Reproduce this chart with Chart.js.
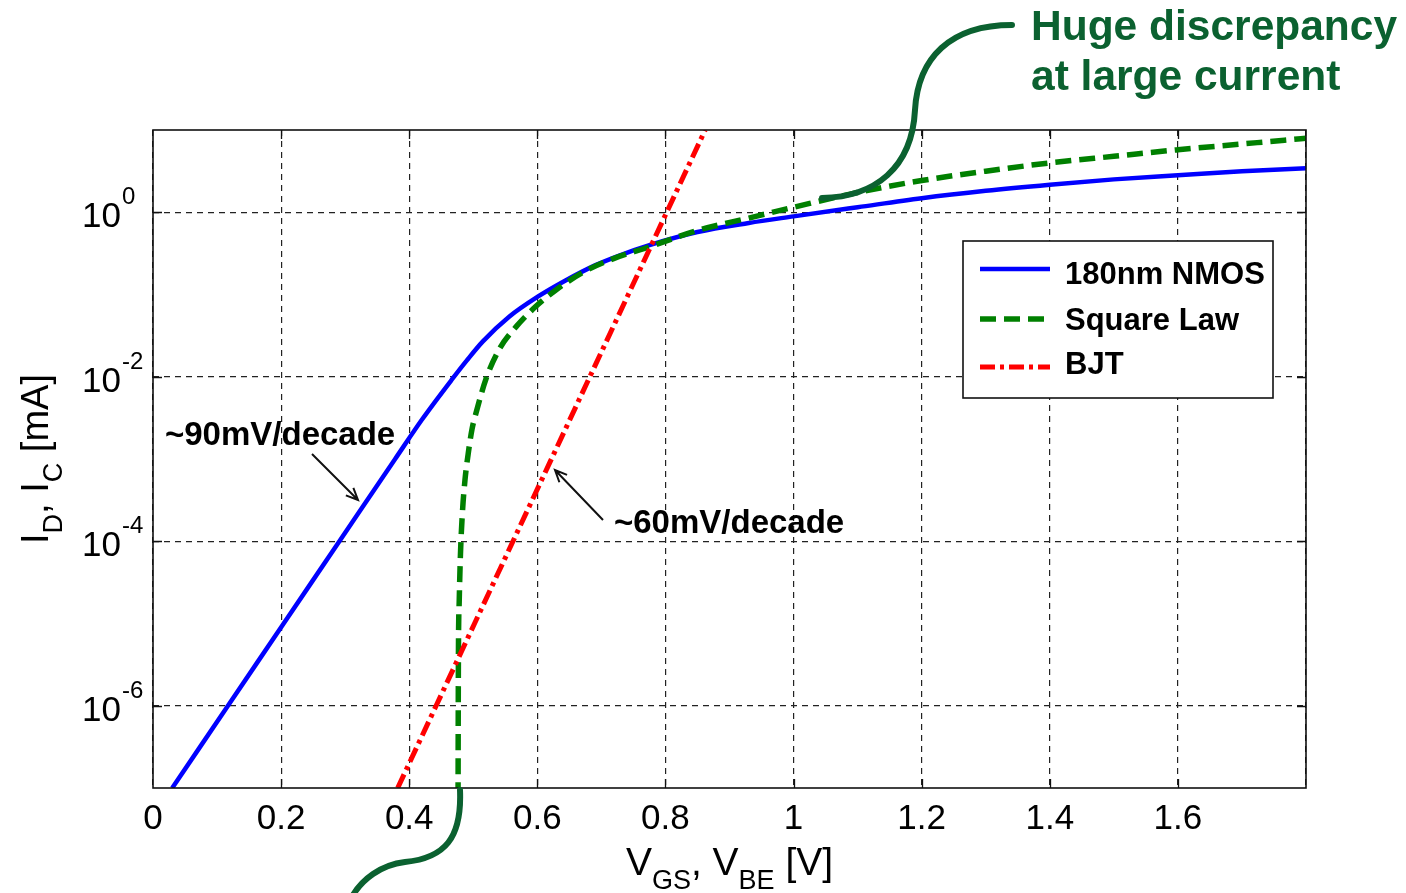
<!DOCTYPE html>
<html>
<head>
<meta charset="utf-8">
<script src="https://cdn.jsdelivr.net/npm/chart.js@4.4.0/dist/chart.umd.min.js"></script>
<style>
html, body { margin: 0; padding: 0; background: #fff; }
#wrap { position: relative; width: 1406px; height: 893px; }
</style>
</head>
<body>
<div id="wrap"><canvas id="chart"></canvas></div>
<script>
// values: gate/base voltage [V] and current [mA]
const nmosV = [0.03, 0.117, 0.204, 0.291, 0.378, 0.42, 0.467, 0.49, 0.515, 0.556, 0.60, 0.644, 0.69, 0.73, 0.775, 0.85, 0.93, 1.0, 1.1, 1.2, 1.3, 1.4, 1.5, 1.6, 1.7, 1.8];
const nmosI = [1e-7, 1e-6, 1e-5, 1e-4, 1e-3, 3.02e-3, 9.33e-3, 1.58e-2, 2.69e-2, 5.37e-2, 9.33e-2, 0.148, 0.226, 0.302, 0.398, 0.575, 0.741, 0.891, 1.15, 1.48, 1.82, 2.16, 2.51, 2.82, 3.16, 3.43];

const sqV = [0.476, 0.4768, 0.478, 0.48, 0.483, 0.487, 0.492, 0.498, 0.505, 0.52, 0.541, 0.567, 0.597, 0.628, 0.674, 0.72, 0.775, 0.85, 0.93, 1.0, 1.1, 1.2, 1.3, 1.4, 1.5, 1.6, 1.7, 1.8];
const sqI = [1e-8, 4e-6, 1.8e-5, 7e-5, 2.2e-4, 5.5e-4, 1.15e-3, 2.3e-3, 3.8e-3, 9.5e-3, 2.19e-2, 4.07e-2, 7.08e-2, 0.112, 0.191, 0.275, 0.38, 0.60, 0.85, 1.15, 1.74, 2.43, 3.16, 3.98, 4.79, 5.75, 6.76, 7.94];

const bjtV = [0.382, 0.442, 0.502, 0.562, 0.622, 0.682, 0.742, 0.802, 0.862];
const bjtI = [1e-7, 1e-6, 1e-5, 1e-4, 1e-3, 1e-2, 1e-1, 1, 10];

const seriesNames = ['180nm NMOS', 'Square Law', 'BJT'];
const yTickExp = [0, -2, -4, -6];
const xMin = 0, xMax = 1.8, xStep = 0.2;

const FONT = '"Liberation Sans", Arial, Helvetica, sans-serif';
const DARK_GREEN = '#0b6130';

function pts(xs, ys) {
    return xs.map((x, i) => ({ x: x, y: ys[i] }));
}

// draws text made of normal/subscript parts, returns width
function drawParts(ctx, parts, x, y, big, small, align) {
    const w = parts.map(p => {
        ctx.font = (p.sub ? small : big) + 'px ' + FONT;
        return ctx.measureText(p.t).width;
    });
    const total = w.reduce((a, b) => a + b, 0);
    let cx = align === 'center' ? x - total / 2 : (align === 'right' ? x - total : x);
    ctx.textAlign = 'left';
    ctx.textBaseline = 'alphabetic';
    parts.forEach((p, i) => {
        ctx.font = (p.sub ? small : big) + 'px ' + FONT;
        ctx.fillText(p.t, cx, y + (p.sub ? 14 : 0));
        cx += w[i];
    });
    return total;
}

function arrow(ctx, x1, y1, x2, y2) {
    const a = Math.atan2(y2 - y1, x2 - x1);
    const L = 13;
    ctx.save();
    ctx.strokeStyle = '#111';
    ctx.lineWidth = 2;
    ctx.beginPath();
    ctx.moveTo(x1, y1);
    ctx.lineTo(x2, y2);
    ctx.moveTo(x2 - L * Math.cos(a - 0.42), y2 - L * Math.sin(a - 0.42));
    ctx.lineTo(x2, y2);
    ctx.lineTo(x2 - L * Math.cos(a + 0.42), y2 - L * Math.sin(a + 0.42));
    ctx.stroke();
    ctx.restore();
}

const decorPlugin = {
    id: 'decor',
    afterDatasetsDraw(chart) {
        const ctx = chart.ctx;
        const area = chart.chartArea;
        const xs = chart.scales.x, ys = chart.scales.y;
        ctx.save();

        // frame
        ctx.strokeStyle = '#111';
        ctx.lineWidth = 1.6;
        ctx.strokeRect(area.left, area.top, area.right - area.left, area.bottom - area.top);

        // inward tick marks
        ctx.lineWidth = 1.3;
        ctx.beginPath();
        for (let v = xMin + xStep; v < xMax - 1e-9; v += xStep) {
            const px = Math.round(xs.getPixelForValue(v)) + 0.5;
            ctx.moveTo(px, area.bottom); ctx.lineTo(px, area.bottom - 9);
            ctx.moveTo(px, area.top); ctx.lineTo(px, area.top + 9);
        }
        yTickExp.forEach(e => {
            const py = Math.round(ys.getPixelForValue(Math.pow(10, e))) + 0.5;
            ctx.moveTo(area.left, py); ctx.lineTo(area.left + 9, py);
            ctx.moveTo(area.right, py); ctx.lineTo(area.right - 9, py);
        });
        ctx.stroke();

        // y tick labels 10^n
        ctx.fillStyle = '#000';
        ctx.textBaseline = 'alphabetic';
        ctx.textAlign = 'left';
        yTickExp.forEach(e => {
            const py = ys.getPixelForValue(Math.pow(10, e));
            ctx.font = '35px ' + FONT;
            ctx.fillText('10', 82, py + 15);
            ctx.font = '24px ' + FONT;
            ctx.fillText(String(e), 122, py - 8);
        });

        // axis titles
        drawParts(ctx, [
            { t: 'V' }, { t: 'GS', sub: true }, { t: ', ' },
            { t: 'V' }, { t: 'BE', sub: true }, { t: ' [V]' }
        ], (area.left + area.right) / 2, 875, 39, 27, 'center');

        ctx.save();
        ctx.translate(48, (area.top + area.bottom) / 2);
        ctx.rotate(-Math.PI / 2);
        drawParts(ctx, [
            { t: 'I' }, { t: 'D', sub: true }, { t: ', ' },
            { t: 'I' }, { t: 'C', sub: true }, { t: ' [mA]' }
        ], 0, 0, 38, 27, 'center');
        ctx.restore();

        // legend
        const lx = 963, ly = 241, lw = 310, lh = 157;
        ctx.fillStyle = '#fff';
        ctx.fillRect(lx, ly, lw, lh);
        ctx.strokeStyle = '#111';
        ctx.lineWidth = 1.6;
        ctx.strokeRect(lx, ly, lw, lh);
        const lineY = [269, 319, 367];
        const textY = [284, 330, 374];
        chart.data.datasets.forEach((ds, i) => {
            ctx.save();
            ctx.strokeStyle = ds.borderColor;
            ctx.lineWidth = ds.borderWidth;
            ctx.setLineDash(ds.borderDash || []);
            ctx.beginPath();
            ctx.moveTo(980, lineY[i]);
            ctx.lineTo(1050, lineY[i]);
            ctx.stroke();
            ctx.restore();
            ctx.fillStyle = '#000';
            ctx.font = 'bold 31px ' + FONT;
            ctx.textAlign = 'left';
            ctx.textBaseline = 'alphabetic';
            ctx.fillText(ds.label, 1065, textY[i]);
        });

        // slope annotations
        ctx.fillStyle = '#000';
        ctx.font = 'bold 33px ' + FONT;
        ctx.textAlign = 'left';
        ctx.fillText('~90mV/decade', 165, 445);
        arrow(ctx, 312, 454, 358, 500);
        ctx.fillText('~60mV/decade', 614, 533);
        arrow(ctx, 603, 520, 555, 470);

        // callout
        ctx.fillStyle = DARK_GREEN;
        ctx.font = 'bold 42.5px ' + FONT;
        ctx.fillText('Huge discrepancy', 1031, 40);
        ctx.fillText('at large current', 1031, 90);

        ctx.strokeStyle = DARK_GREEN;
        ctx.lineWidth = 6;
        ctx.lineCap = 'round';
        ctx.beginPath();
        ctx.moveTo(1012, 25);
        ctx.bezierCurveTo(950, 25, 918, 58, 915, 110);
        ctx.bezierCurveTo(912, 168, 875, 197, 822, 198);
        ctx.stroke();

        ctx.beginPath();
        ctx.moveTo(460, 790);
        ctx.bezierCurveTo(462, 838, 445, 858, 405, 862);
        ctx.bezierCurveTo(380, 865, 362, 880, 353, 895);
        ctx.stroke();

        ctx.restore();
    }
};

new Chart(document.getElementById('chart'), {
    type: 'line',
    data: {
        datasets: [
            {
                label: seriesNames[0],
                data: pts(nmosV, nmosI),
                borderColor: '#0000ff',
                borderWidth: 4.5,
                cubicInterpolationMode: 'monotone',
                order: 2
            },
            {
                label: seriesNames[1],
                data: pts(sqV, sqI),
                borderColor: '#008000',
                borderWidth: 5.5,
                borderDash: [16, 8],
                cubicInterpolationMode: 'monotone',
                order: 1
            },
            {
                label: seriesNames[2],
                data: pts(bjtV, bjtI),
                borderColor: '#ff0000',
                borderWidth: 5,
                borderDash: [15, 5, 4, 5],
                tension: 0,
                order: 0
            }
        ]
    },
    options: {
        responsive: true,
        maintainAspectRatio: false,
        animation: false,
        elements: { point: { radius: 0 }, line: { borderCapStyle: 'butt' } },
        datasets: { line: { clip: 0, fill: false } },
        layout: { padding: { top: 130, right: 100, left: 0, bottom: 0 } },
        plugins: { legend: { display: false }, tooltip: { enabled: false } },
        scales: {
            x: {
                type: 'linear',
                min: xMin,
                max: xMax,
                ticks: {
                    stepSize: xStep,
                    autoSkip: false,
                    maxRotation: 0,
                    padding: 10,
                    color: '#000',
                    font: { family: FONT, size: 35 },
                    callback: v => (v > xMax - 0.01 ? '' : String(+v.toFixed(1)))
                },
                grid: { color: '#222', lineWidth: 1.2, drawTicks: false },
                border: { display: false, dash: [6, 5] },
                afterFit: s => { s.height = 105; }
            },
            y: {
                type: 'logarithmic',
                min: 1e-7,
                max: 10,
                ticks: { display: false },
                grid: { color: '#222', lineWidth: 1.2, drawTicks: false },
                border: { display: false, dash: [6, 5] },
                afterBuildTicks: s => { s.ticks = yTickExp.map(e => ({ value: Math.pow(10, e) })); },
                afterFit: s => { s.width = 153; }
            }
        }
    },
    plugins: [decorPlugin]
});
</script>
</body>
</html>
